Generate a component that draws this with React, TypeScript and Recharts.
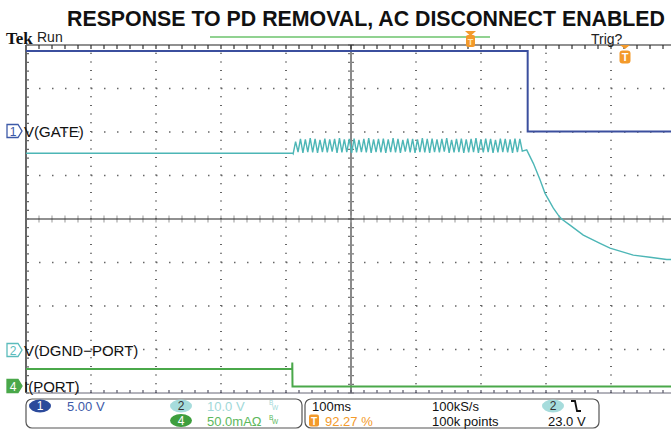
import { LineChart, Line, XAxis, YAxis, ReferenceLine } from 'recharts';

// scope screen: 100 ms/div across (about 9.92 div visible), 8 div tall.
const X_MAX = 992.3;
const gridTimes = [100, 200, 300, 400, 600, 700, 800, 900];
const gridDivs = [1, 2, 3, 5, 6, 7];

const ch1Points: [number, number][] = [[0, 7.86], [771.8, 7.86], [771.8, 6.01], [992.3, 6.01]];

const ch2Before: [number, number][] = [[0, 5.51], [410.5, 5.51]];
// ripple sampled every 3.75 ms once the PD is removed
const rippleStart = 411;
const rippleStep = 3.75;
const rippleValues = [
  5.50,
  5.78, 5.54, 5.84, 5.52, 5.83, 5.54, 5.86, 5.53, 5.84, 5.52, 5.82, 5.54, 5.85, 5.53, 5.83, 5.55,
  5.84, 5.52, 5.86, 5.53, 5.83, 5.54, 5.84, 5.52, 5.85, 5.53, 5.82, 5.54, 5.84, 5.53, 5.86, 5.52,
  5.83, 5.54, 5.84, 5.53, 5.85, 5.52, 5.83, 5.54, 5.86, 5.53, 5.84, 5.52, 5.82, 5.55, 5.85, 5.53,
  5.84, 5.52, 5.83, 5.54, 5.86, 5.53, 5.84, 5.52, 5.85, 5.54, 5.83, 5.53, 5.84, 5.55, 5.86, 5.52,
  5.82, 5.53, 5.84, 5.54, 5.85, 5.52, 5.83, 5.53, 5.84, 5.54, 5.86, 5.52, 5.83, 5.53, 5.85, 5.54,
  5.84, 5.52, 5.82, 5.53, 5.85, 5.54, 5.84, 5.53, 5.83, 5.52, 5.85, 5.54, 5.84, 5.56,
];
const ch2Decay: [number, number][] = [
  [770.3, 5.59], [780.5, 5.28], [790.8, 4.90], [798.5, 4.59], [811.3, 4.25], [818.9, 4.09],
  [824, 4.0], [836.9, 3.86], [857.4, 3.63], [883.1, 3.44], [898.5, 3.33], [934.3, 3.17],
  [960, 3.12], [985.7, 3.07], [992.3, 3.07],
];

const ch4Points: [number, number][] = [[0, 0.55], [409.5, 0.55], [409.7, 0.70], [410, 0.15], [992.3, 0.15]];

const toRows = (pts: [number, number][]) => pts.map(([t, v]) => ({ t, v }));
const ch1Data = toRows(ch1Points);
const ch2Data = [
  ...toRows(ch2Before),
  ...rippleValues.map((v, i) => ({ t: rippleStart + i * rippleStep, v })),
  ...toRows(ch2Decay),
];
const ch4Data = toRows(ch4Points);

// graticule line with small minor-division ticks (5 per division)
function ticked(color: string, width: number, tickColor: string, before: number, after: number) {
  return (p: any) => {
    const horiz = Math.abs(p.y1 - p.y2) < 0.5;
    let d = '';
    if (horiz) {
      const sp = (p.x2 - p.x1) / (X_MAX / 20);
      for (let x = Math.min(p.x1, p.x2); x <= Math.max(p.x1, p.x2) + 0.5; x += sp) {
        d += `M${x},${p.y1 - before}V${p.y1 + after}`;
      }
    } else {
      const top = Math.min(p.y1, p.y2);
      const bot = Math.max(p.y1, p.y2);
      const sp = (bot - top) / 40;
      for (let y = top; y <= bot + 0.5; y += sp) {
        d += `M${p.x1 - before},${y}H${p.x1 + after}`;
      }
    }
    return (
      <g>
        <path d={d} stroke={tickColor} strokeWidth={1.2} fill="none" />
        <line x1={p.x1} y1={p.y1} x2={p.x2} y2={p.y2} stroke={color} strokeWidth={width} />
      </g>
    );
  };
}

function ChannelTag({ y, n, color, filled }: { y: number; n: string; color: string; filled?: boolean }) {
  return (
    <g>
      <path
        d={`M7,${y - 6.5} H18 L22,${y} L18,${y + 6.5} H7 Z`}
        fill={filled ? color : '#fff'}
        stroke={color}
        strokeWidth={1.3}
      />
      <text x={13} y={y + 4.5} fontSize={12} textAnchor="middle" fill={filled ? '#fff' : color}>{n}</text>
    </g>
  );
}

function Pill({ cx, cy, n, fill, color }: { cx: number; cy: number; n: string; fill: string; color: string }) {
  return (
    <g>
      <ellipse cx={cx} cy={cy} rx={11} ry={6.5} fill={fill} />
      <text x={cx} y={cy + 4} fontSize={12} textAnchor="middle" fill={color}>{n}</text>
    </g>
  );
}

export default function App() {
  return (
    <div style={{ position: 'absolute', left: 0, top: 0, width: 671, height: 429, background: '#fff', overflow: 'hidden' }}>
      <LineChart width={671} height={429} margin={{ top: 45, right: 0, bottom: 36, left: 26 }}>
        <XAxis type="number" dataKey="t" domain={[0, X_MAX]} allowDataOverflow hide />
        <YAxis type="number" domain={[0, 8]} allowDataOverflow hide />
        {gridTimes.map((t) => (
          <ReferenceLine key={'t' + t} x={t} stroke="#666" strokeWidth={2} strokeDasharray="1 7.7" />
        ))}
        {gridDivs.map((d) => (
          <ReferenceLine key={'d' + d} y={d} stroke="#666" strokeWidth={1.5} strokeDasharray="1.5 11.5" />
        ))}
        <ReferenceLine x={500} shape={ticked('#8a8a8a', 2, '#777', 3, 3)} />
        <ReferenceLine y={4} shape={ticked('#222', 1.2, '#aaa', 3.5, 3.5)} />
        <ReferenceLine y={8} shape={ticked('#222', 1.2, '#333', 0, 4)} />
        <ReferenceLine y={0} shape={ticked('#667', 1, '#556', 3, 0)} />
        <ReferenceLine x={0} shape={ticked('#666', 2, '#666', 0, 3)} />
        <Line data={ch1Data} dataKey="v" type="linear" stroke="#3b4f9e" strokeWidth={2} dot={false} isAnimationActive={false} />
        <Line data={ch2Data} dataKey="v" type="linear" stroke="#4db6b6" strokeWidth={1.4} dot={false} isAnimationActive={false} />
        <Line data={ch4Data} dataKey="v" type="linear" stroke="#4aa84a" strokeWidth={2} dot={false} isAnimationActive={false} />
      </LineChart>

      <svg width={671} height={429} style={{ position: 'absolute', left: 0, top: 0, pointerEvents: 'none' }}
        fontFamily="'Liberation Sans', Arial, sans-serif">
        <text transform="translate(67,26) scale(1,1.08)" x={0} y={0} fontSize={21.2} fontWeight="bold" fill="#111"
          textLength={598} lengthAdjust="spacingAndGlyphs">
          RESPONSE TO PD REMOVAL, AC DISCONNECT ENABLED
        </text>

        <text x={6} y={44} fontSize={17} fontWeight="bold" fontFamily="'Liberation Serif', serif" fill="#111">Tek</text>
        <text x={37} y={42} fontSize={14} fill="#222">Run</text>
        <line x1={210} y1={37} x2={490} y2={37} stroke="#6cc36c" strokeWidth={1.5} />
        <polygon points="465,31 476,31 470.5,36" fill="#f39a2b" />
        <rect x={466} y={35} width={9} height={12} rx={2} fill="#f39a2b" />
        <text x={470.5} y={45} fontSize={9} fontWeight="bold" textAnchor="middle" fill="#fde6b8">T</text>
        <text x={591} y={43.5} fontSize={14} fill="#222">Trig?</text>
        <polygon points="620,45 630,45 625,49" fill="#f39a2b" />
        <rect x={619.5} y={50.5} width={11} height={13} rx={3} fill="#f39a2b" />
        <text x={625} y={61} fontSize={11} fontWeight="bold" textAnchor="middle" fill="#fff">T</text>

        <ChannelTag y={131} n="1" color="#3d5aa8" />
        <text x={24} y={137} fontSize={15} fill="#111">V(GATE)</text>
        <ChannelTag y={350} n="2" color="#5bbcbc" />
        <text x={24} y={356} fontSize={15} fill="#111">V(DGND−PORT)</text>
        <ChannelTag y={386} n="4" color="#4aa84a" filled />
        <text x={24} y={392} fontSize={15} fill="#111">I(PORT)</text>

        <rect x={26} y={399} width={276} height={29} rx={6} fill="none" stroke="#555" strokeWidth={1.2} />
        <Pill cx={40} cy={406} n="1" fill="#2b4a9b" color="#fff" />
        <text x={67} y={411} fontSize={13} fill="#3d5aa8">5.00 V</text>
        <Pill cx={181} cy={406} n="2" fill="#a6dcdc" color="#333" />
        <text x={207} y={411} fontSize={13} fill="#a0d8d8">10.0 V</text>
        <text x={269} y={405} fontSize={6.5} fill="#a0d8d8">B</text>
        <text x={272} y={409.5} fontSize={6.5} fill="#a0d8d8">W</text>
        <Pill cx={181} cy={420.5} n="4" fill="#3d9e3d" color="#fff" />
        <text x={207} y={425.5} fontSize={13} fill="#5cb85c">50.0mAΩ</text>
        <text x={269} y={419.5} fontSize={6.5} fill="#5cb85c">B</text>
        <text x={272} y={424} fontSize={6.5} fill="#5cb85c">W</text>

        <rect x={305} y={399} width={294} height={29} rx={6} fill="none" stroke="#555" strokeWidth={1.2} />
        <text x={312} y={411} fontSize={13} fill="#111">100ms</text>
        <text x={432} y={411} fontSize={13} fill="#111">100kS/s</text>
        <Pill cx={553} cy={406} n="2" fill="#a6dcdc" color="#333" />
        <path d="M571,401 H575 L577,411 H581" stroke="#111" strokeWidth={1.8} fill="none" />
        <rect x={309} y={414.5} width={10} height={12} rx={2} fill="#f39a2b" />
        <text x={314} y={424.5} fontSize={10} fontWeight="bold" textAnchor="middle" fill="#fff">T</text>
        <text x={325} y={425.5} fontSize={13} fill="#f39a2b">92.27 %</text>
        <text x={432} y={425.5} fontSize={13} fill="#111">100k points</text>
        <text x={548} y={425.5} fontSize={13} fill="#111">23.0 V</text>
      </svg>
    </div>
  );
}
